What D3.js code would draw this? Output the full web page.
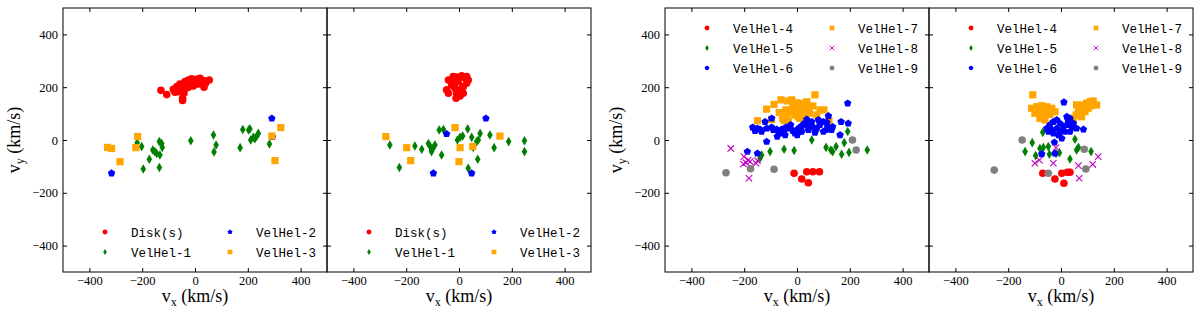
<!DOCTYPE html>
<html>
<head>
<meta charset="utf-8">
<script src="https://cdn.jsdelivr.net/npm/d3@7"></script>
<style>
body { margin: 0; background: #fff; }
svg { display: block; }
.tick text { font-family: "Liberation Serif", serif; font-size: 12.5px; fill: #000; }
.axis-label { font-family: "Liberation Serif", serif; font-size: 18px; fill: #000; }
.legend text { font-family: "Liberation Mono", monospace; font-size: 12.5px; fill: #000; }
</style>
</head>
<body>
<svg id="chart" width="1200" height="312"></svg>
<script>
// axis settings
var domain = [-500, 500];
var tickVals = [-400, -200, 0, 200, 400];

// ---- left pair, panel 1 ----
var p1Disk = [[-129,188],[-107,172],[-82,192],[-76,181],[-69,202],[-57,212],[-51,196],[-44,183],[-47,158],[-47,150],
    [-38,221],[-32,205],[-25,227],[-16,215],[-13,232],[-6,205],[6,230],[13,212],[19,234],[34,200],[32,225],[54,227],
    [-63,183],[-42,177],[-20,222],[0,220],[-35,195],[10,218],[25,222],[-55,205],[-60,190],[-25,200],[-10,225],[40,215]];
var p1Vel1 = [[-219,-10],[-202,-25],[-196,-110],[-173,-73],[-160,-38],[-152,-44],[-135,-6],[-133,-57],[-135,-104],
    [-126,-13],[-124,-28],[-145,-51],[-16,-3],[70,19],[80,-19],[72,-45],[171,-29],[181,40],[203,38],[211,0],[221,10],
    [234,15],[240,25],[282,-15],[208,42],[227,5]];
var p1Vel2 = [[-316,-126],[291,82],[293,12]];
var p1Vel3 = [[-331,-28],[-316,-32],[-284,-82],[-224,-29],[-217,13],[291,15],[325,47],[303,-78]];

// ---- left pair, panel 2 ----
var p2Disk = [[-40,227],[-22,240],[-9,238],[10,243],[23,234],[29,215],[16,202],[4,190],[-9,177],[-11,158],[-40,177],
    [-47,190],[-28,208],[-3,221],[35,227],[-22,227],[16,177],[4,167],[29,240],[-15,196]];
var p2Vel1 = [[-262,-19],[-226,-104],[-167,-23],[-141,-35],[-116,-13],[-110,-23],[-104,-38],[-97,-28],[-91,-19],
    [-66,-57],[-75,38],[-59,40],[-6,0],[4,10],[14,15],[33,42],[48,10],[67,-6],[73,0],[80,25],[71,-73],[35,-107],
    [117,19],[133,-29],[188,-6],[248,-3],[248,-44],[-104,-44],[54,-28]];
var p2Vel2 = [[102,82],[-47,23],[-97,-126],[48,-126]];
var p2Vel3 = [[-277,13],[-198,-29],[-183,-78],[-15,47],[4,-29],[52,-25],[0,-82],[155,15]];

// ---- right pair, panel 3 ----
var p3Vel4 = [[-11,-126],[18,-148],[37,-120],[43,-162],[60,-120],[85,-120]];
var p3Vel5 = [[-134,-57],[-140,-69],[-102,-44],[-49,-35],[-11,-40],[56,0],[110,-28],[128,-38],[135,-44],[148,-25],
    [169,-54],[179,-10],[192,32],[197,-47],[266,-38]];
var p3Vel6 = [[-168,48],[-159,35],[-150,44],[-140,40],[-134,32],[-115,44],[-96,48],[-121,69],[-90,38],[-77,40],
    [-71,32],[-64,25],[-58,40],[-49,35],[-42,48],[-33,44],[-24,57],[-16,35],[-8,25],[1,40],[11,48],[18,53],[27,63],
    [37,57],[47,50],[56,69],[62,48],[75,44],[87,57],[100,32],[110,38],[116,50],[119,91],[135,50],[131,38],[163,19],
    [167,69],[194,63],[192,139],[-115,-6],[-188,-44],[-150,-51],[-96,82],[1,19],[-45,19],[-75,13],[18,32],[43,38],
    [68,28],[81,76],[100,69],[113,66],[37,78]];
var p3Vel7 = [[-150,73],[-115,117],[-87,135],[-67,104],[-61,152],[-42,114],[-35,148],[-54,82],[-20,152],[-16,126],
    [-23,104],[-1,141],[9,114],[18,139],[24,114],[24,88],[37,145],[43,124],[47,101],[60,129],[68,171],[75,95],
    [87,114],[102,114],[121,73],[-96,78],[-48,73],[-45,95],[-10,114],[5,88],[-6,95],[11,82],[-33,76]];
var p3Vel8 = [[-251,-32],[-201,-63],[-193,-86],[-203,-91],[-185,-76],[-178,-82],[-155,-88],[-150,-78],[-182,-145]];
var p3Vel9 = [[-269,-124],[-176,-109],[-87,-111],[210,0],[224,-38]];

// ---- right pair, panel 4 ----
var p4Vel4 = [[-69,-126],[-23,-148],[3,-126],[11,-164],[24,-122],[34,-122]];
var p4Vel5 = [[-136,-44],[-109,-10],[-96,-59],[-80,-32],[-67,-28],[-69,29],[-48,-25],[-44,-54],[-19,-51],[-6,-48],
    [34,-72],[53,3],[59,-38],[66,-28],[114,-44]];
var p4Vel6 = [[11,143],[22,88],[34,82],[-54,44],[-42,57],[-29,69],[-16,76],[-4,63],[9,50],[22,57],[41,50],[59,44],
    [85,40],[-48,32],[-29,25],[-10,19],[3,6],[15,32],[-16,44],[34,32],[-25,-9],[-73,-53],[-23,-51],[-35,38],[28,69],
    [-4,32],[47,63]];
var p4Vel7 = [[-107,171],[-111,120],[-92,126],[-73,130],[-54,126],[-35,120],[-99,101],[-80,107],[-61,101],[-42,97],
    [-80,82],[-61,76],[-23,107],[-86,117],[-67,88],[-48,114],[47,82],[57,95],[66,107],[72,120],[82,133],[97,139],
    [110,145],[122,148],[135,133],[103,120],[91,107],[78,88],[59,133],[69,130],[116,130]];
var p4Vel8 = [[-99,-88],[-82,-76],[-29,-88],[-19,-29],[66,-97],[69,-145],[120,-92],[141,-63]];
var p4Vel9 = [[-147,0],[-253,-114],[-48,-126],[88,-35],[94,-110]];

// series names and colours
var names = ["Disk(s)", "VelHel-1", "VelHel-2", "VelHel-3", "VelHel-4", "VelHel-5", "VelHel-6", "VelHel-7", "VelHel-8", "VelHel-9"];

var style = {
    disk: {shape: "circle", color: "#ff0000"},
    v1: {shape: "thin", color: "#007f00"},
    v2: {shape: "pent", color: "#0000ff"},
    v3: {shape: "square", color: "#ffa500"},
    v4: {shape: "circle", color: "#ff0000"},
    v5: {shape: "thin", color: "#007f00"},
    v6: {shape: "pent", color: "#0000ff"},
    v7: {shape: "square", color: "#ffa500"},
    v8: {shape: "x", color: "#bf00bf"},
    v9: {shape: "circle", color: "#808080"}
};

function markerPath(shape, k) {
    k = k || 1;
    if (shape == "circle") {
        return d3.symbol().type(d3.symbolCircle).size(Math.PI * 3.8 * 3.8 * k * k)();
    }
    if (shape == "square") {
        var s = 3.6 * k;
        return "M" + -s + "," + -s + "H" + s + "V" + s + "H" + -s + "Z";
    }
    if (shape == "thin") {
        var h = 4.8 * k, w = 2.8 * k;
        return "M0," + -h + "L" + w + ",0L0," + h + "L" + -w + ",0Z";
    }
    if (shape == "pent") {
        var r = 3.9 * k;
        var pts = d3.range(5).map(function(i) {
            var a = -Math.PI / 2 + i * 2 * Math.PI / 5;
            return [r * Math.cos(a), r * Math.sin(a)];
        });
        return "M" + pts.join("L") + "Z";
    }
    // x
    var c = 3.2 * k;
    return "M" + -c + "," + -c + "L" + c + "," + c + "M" + -c + "," + c + "L" + c + "," + -c;
}

var size = 264;
var panelTop = 8;
var panels = [
    {left: 63, yLabels: true, legend: "bottom",
     series: [[p1Disk, "disk", 0], [p1Vel1, "v1", 1], [p1Vel2, "v2", 2], [p1Vel3, "v3", 3]]},
    {left: 327, yLabels: false, legend: "bottom",
     series: [[p2Disk, "disk", 0], [p2Vel1, "v1", 1], [p2Vel2, "v2", 2], [p2Vel3, "v3", 3]]},
    {left: 665, yLabels: true, legend: "top",
     series: [[p3Vel4, "v4", 4], [p3Vel5, "v5", 5], [p3Vel7, "v7", 7], [p3Vel6, "v6", 6], [p3Vel8, "v8", 8], [p3Vel9, "v9", 9]]},
    {left: 929, yLabels: false, legend: "top",
     series: [[p4Vel4, "v4", 4], [p4Vel5, "v5", 5], [p4Vel7, "v7", 7], [p4Vel6, "v6", 6], [p4Vel8, "v8", 8], [p4Vel9, "v9", 9]]}
];

var svg = d3.select("#chart");

function addLabel(g, x, y, sub, rotate) {
    var t = g.append("text")
        .attr("class", "axis-label")
        .attr("text-anchor", "middle")
        .attr("transform", "translate(" + x + "," + y + ")" + (rotate ? " rotate(-90)" : ""));
    t.append("tspan").text("v");
    t.append("tspan").attr("font-size", "12px").attr("dy", 4).text(sub);
    t.append("tspan").attr("dy", -4).text(" (km/s)");
}

panels.forEach(function(p) {
    var x = d3.scaleLinear().domain(domain).range([0, size]);
    var y = d3.scaleLinear().domain(domain).range([size, 0]);

    var g = svg.append("g").attr("transform", "translate(" + p.left + "," + panelTop + ")");

    // inward ticks on every side
    var axes = [
        [d3.axisBottom(x), "translate(0," + size + ")", true, 4],
        [d3.axisTop(x), "translate(0,0)", false, 4],
        [d3.axisLeft(y), "translate(0,0)", p.yLabels, 5],
        [d3.axisRight(y), "translate(" + size + ",0)", false, 4]
    ];
    axes.forEach(function(a) {
        var ax = a[0].tickValues(tickVals).tickSizeInner(-4).tickSizeOuter(0).tickPadding(a[3]);
        var ag = g.append("g").attr("transform", a[1]).call(ax);
        ag.select(".domain").remove();
        ag.selectAll(".tick line").attr("stroke", "#000");
        if (!a[2]) ag.selectAll(".tick text").remove();
        ag.attr("font-family", null).attr("font-size", null);
    });

    // points
    p.series.forEach(function(s) {
        var st = style[s[1]];
        g.append("g").selectAll("path")
            .data(s[0])
            .enter()
            .append("path")
            .attr("transform", function(d) { return "translate(" + x(d[0]) + "," + y(d[1]) + ")"; })
            .attr("d", markerPath(st.shape))
            .attr("fill", st.shape == "x" ? "none" : st.color)
            .attr("stroke", st.shape == "x" ? st.color : "none")
            .attr("stroke-width", 1.1);
    });

    // frame
    g.append("rect")
        .attr("width", size).attr("height", size)
        .attr("fill", "none").attr("stroke", "#000").attr("stroke-width", 1);

    // legend, two columns, filled column by column
    var ordered = p.series.slice().sort(function(a, b) { return a[2] - b[2]; });
    var rows = ordered.length / 2;
    var rowY = p.legend == "bottom" ? 224 : 20;
    var leg = g.append("g").attr("class", "legend");
    ordered.forEach(function(s, i) {
        var col = Math.floor(i / rows), row = i % rows;
        var st = style[s[1]];
        var lx = col == 0 ? 42 : 167;
        var ly = rowY + row * 20;
        leg.append("path")
            .attr("transform", "translate(" + lx + "," + ly + ")")
            .attr("d", markerPath(st.shape, 0.65))
            .attr("fill", st.shape == "x" ? "none" : st.color)
            .attr("stroke", st.shape == "x" ? st.color : "none");
        leg.append("text")
            .attr("x", lx + 26)
            .attr("y", ly + 4.5)
            .text(names[s[2]]);
    });

    addLabel(g, size / 2, 294, "x", false);
    if (p.yLabels) addLabel(g, -43, size / 2, "y", true);
});
</script>
</body>
</html>
